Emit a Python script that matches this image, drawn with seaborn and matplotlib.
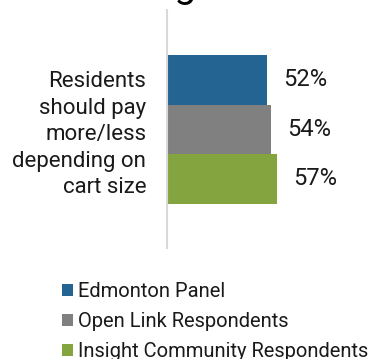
import matplotlib
matplotlib.use("Agg")
import matplotlib.pyplot as plt
import seaborn as sns
import pandas as pd

categories = ["Residents\nshould pay\nmore/less\ndepending on\ncart size"]
series = ["Edmonton Panel", "Open Link Respondents", "Insight Community Respondents"]
values = [52, 54, 57]
colors = ["#236493", "#808080", "#84a440"]

sns.set_theme(style="white")
plt.rcParams["font.family"] = ["Roboto", "DejaVu Sans"]

df = pd.DataFrame({"cat": categories * len(series), "series": series, "value": values})

fig = plt.figure(figsize=(3.72, 3.59), dpi=100)
ax = fig.add_axes([167 / 372, 1 - 248 / 359, 192.5 / 372, 238 / 359])

sns.barplot(data=df, x="value", y="cat", hue="series", palette=colors,
            orient="h", ax=ax, width=0.8, saturation=1, legend=True,
            linewidth=0, edgecolor="none")

ax.set_xlim(0, 100)
ax.set_ylim(0.638, -0.642)
for c in ax.containers:
    ax.bar_label(c, labels=[f"{v:.0f}%" for v in c.datavalues], padding=11.5,
                 fontsize=17, color="#1a1a1a")

ax.set_xlabel("")
ax.set_ylabel("")
ax.set_xticks([])
ax.tick_params(axis="y", length=0, pad=15, labelsize=16, labelcolor="#1a1a1a")
for lab in ax.get_yticklabels():
    lab.set_horizontalalignment("right")
    lab.set_multialignment("right")
    lab.set_linespacing(1.35)
for s in ["top", "right", "bottom"]:
    ax.spines[s].set_visible(False)
ax.spines["left"].set_color("#d9d9d9")
ax.spines["left"].set_linewidth(1.5)

handles, labels = ax.get_legend_handles_labels()
ax.legend_.remove()
fig.legend(handles, labels, loc="upper left", bbox_to_anchor=(56 / 372, 1 - 276 / 359),
           frameon=False, fontsize=14.5, handlelength=0.55, handleheight=0.55,
           handletextpad=0.25, labelspacing=0.55, borderaxespad=0, borderpad=0.3,
           labelcolor="#1a1a1a")

fig.text(200 / 372, 1 + 3 / 359, "Agree", ha="center", va="baseline",
         fontsize=28, color="#000000")

fig.savefig("out.png", dpi=100)
